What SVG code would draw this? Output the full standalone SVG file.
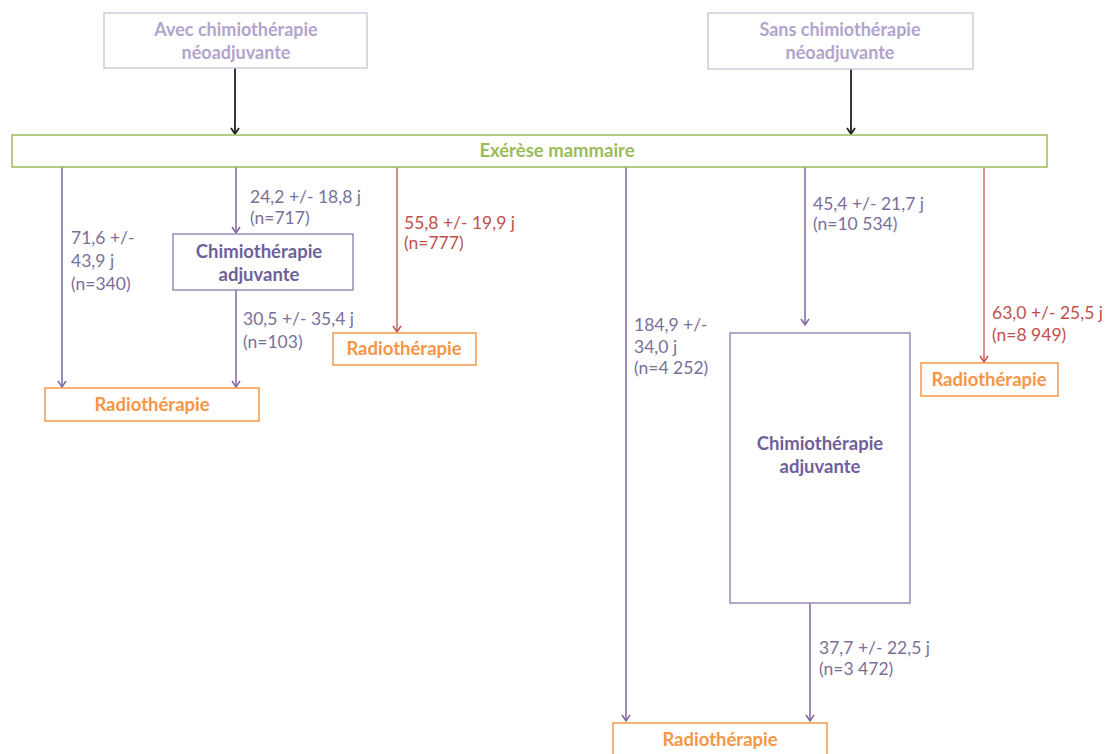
<svg xmlns="http://www.w3.org/2000/svg" width="1107" height="754" viewBox="0 0 1107 754">
<defs>
<marker id="ap" markerWidth="12" markerHeight="12" refX="6" refY="10" markerUnits="userSpaceOnUse" viewBox="0 0 12 12">
<polyline points="2,4 6,10 10,4" fill="none" stroke="#8064a2" stroke-width="1.5"/>
</marker>
<marker id="ar" markerWidth="12" markerHeight="12" refX="6" refY="10" markerUnits="userSpaceOnUse" viewBox="0 0 12 12">
<polyline points="2,4 6,10 10,4" fill="none" stroke="#c0504d" stroke-width="1.5"/>
</marker>
<marker id="ak" markerWidth="12" markerHeight="12" refX="6" refY="10" markerUnits="userSpaceOnUse" viewBox="0 0 12 12">
<polyline points="2,4 6,10 10,4" fill="none" stroke="#222" stroke-width="1.8"/>
</marker>
</defs>
<style>
text{font-family:Lato,"Open Sans","Liberation Sans",sans-serif;font-size:17.5px}
.top{fill:#fff;stroke:#c9c4d9;stroke-width:1.3}
.toptx{fill:#b2a4cc;font-weight:bold;text-anchor:middle;font-size:18px}
.bar{fill:#fff;stroke:#9bbb59;stroke-width:1.5}
.bartx{fill:#9bbb59;font-weight:bold;text-anchor:middle;font-size:18.5px}
.chimio{fill:#fff;stroke:#8a7cb0;stroke-width:1.3}
.chtx{fill:#6f5f9a;font-weight:bold;text-anchor:middle;font-size:18.5px}
.radio{fill:#fff;stroke:#f79646;stroke-width:1.5}
.rtx{fill:#f79646;font-weight:bold;text-anchor:middle;font-size:18.5px}
.lp{fill:#7b6f9a}
.lr{fill:#c0504d}
.cp{stroke:#8064a2;stroke-width:1.5;fill:none}
.cr{stroke:#c0504d;stroke-width:1.3;fill:none}
.ck{stroke:#222;stroke-width:1.8;fill:none}
</style>
<rect width="1107" height="754" fill="#fff"/>
<g id="connectors">
<line class="ck" x1="235" y1="68" x2="235" y2="134" marker-end="url(#ak)"/>
<line class="ck" x1="851" y1="69" x2="851" y2="134" marker-end="url(#ak)"/>
<line class="cp" x1="62" y1="167" x2="62" y2="387" marker-end="url(#ap)"/>
<line class="cp" x1="236" y1="167" x2="236" y2="233" marker-end="url(#ap)"/>
<line class="cp" x1="236" y1="290" x2="236" y2="387" marker-end="url(#ap)"/>
<line class="cr" x1="397" y1="167" x2="397" y2="332" marker-end="url(#ar)"/>
<line class="cp" x1="626" y1="167" x2="626" y2="721" marker-end="url(#ap)"/>
<line class="cp" x1="805" y1="167" x2="805" y2="325" marker-end="url(#ap)"/>
<line class="cp" x1="810" y1="603" x2="810" y2="721" marker-end="url(#ap)"/>
<line class="cr" x1="984" y1="167" x2="984" y2="362" marker-end="url(#ar)"/>
<text class="lp" x="71" y="244">71,6 +/-</text>
<text class="lp" x="71" y="267">43,9 j</text>
<text class="lp" x="71" y="290">(n=340)</text>
<text class="lp" x="250" y="203">24,2 +/- 18,8 j</text>
<text class="lp" x="250" y="224">(n=717)</text>
<text class="lp" x="243" y="325">30,5 +/- 35,4 j</text>
<text class="lp" x="243" y="348">(n=103)</text>
<text class="lr" x="404" y="229">55,8 +/- 19,9 j</text>
<text class="lr" x="404" y="249">(n=777)</text>
<text class="lp" x="813" y="210">45,4 +/- 21,7 j</text>
<text class="lp" x="813" y="230">(n=10 534)</text>
<text class="lr" x="992" y="319">63,0 +/- 25,5 j</text>
<text class="lr" x="992" y="341">(n=8 949)</text>
<text class="lp" x="634" y="331">184,9 +/-</text>
<text class="lp" x="634" y="353">34,0 j</text>
<text class="lp" x="634" y="374">(n=4 252)</text>
<text class="lp" x="819" y="654">37,7 +/- 22,5 j</text>
<text class="lp" x="819" y="675">(n=3 472)</text>
</g>
<g id="avec">
<rect class="top" x="104" y="13" width="263" height="55"/>
<text class="toptx" x="236" y="36">Avec chimiothérapie</text>
<text class="toptx" x="236" y="59">néoadjuvante</text>
</g>
<g id="sans">
<rect class="top" x="708" y="13" width="265" height="56"/>
<text class="toptx" x="840" y="36">Sans chimiothérapie</text>
<text class="toptx" x="840" y="59">néoadjuvante</text>
</g>
<g id="exerese">
<rect class="bar" x="12" y="135" width="1035" height="32"/>
<text class="bartx" x="557" y="157">Exérèse mammaire</text>
</g>
<g id="chimio1">
<rect class="chimio" x="173" y="234" width="180" height="56"/>
<text class="chtx" x="259" y="258">Chimiothérapie</text>
<text class="chtx" x="259" y="281">adjuvante</text>
</g>
<g id="chimio2">
<rect class="chimio" x="730" y="333" width="180" height="270"/>
<text class="chtx" x="820" y="450">Chimiothérapie</text>
<text class="chtx" x="820" y="473">adjuvante</text>
</g>
<g id="radio1">
<rect class="radio" x="45" y="388" width="214" height="33"/>
<text class="rtx" x="152" y="411">Radiothérapie</text>
</g>
<g id="radio2">
<rect class="radio" x="333" y="333" width="143" height="32"/>
<text class="rtx" x="404" y="355">Radiothérapie</text>
</g>
<g id="radio3">
<rect class="radio" x="921" y="363" width="137" height="33"/>
<text class="rtx" x="989" y="386">Radiothérapie</text>
</g>
<g id="radio4">
<rect class="radio" x="613" y="723" width="214" height="40"/>
<text class="rtx" x="720" y="746">Radiothérapie</text>
</g>
</svg>
